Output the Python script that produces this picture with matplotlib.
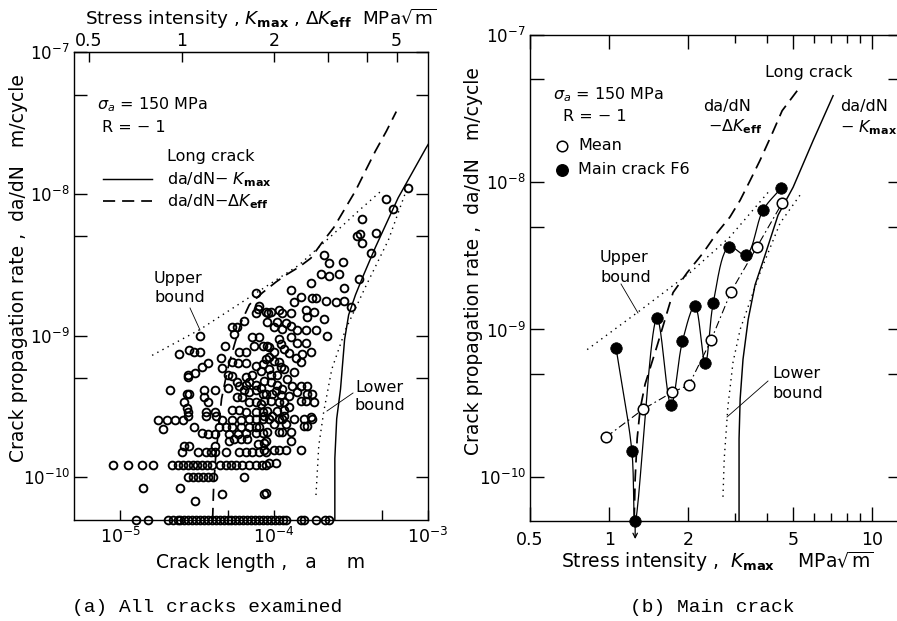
import numpy as np
import matplotlib
matplotlib.use("Agg")
import matplotlib.pyplot as plt
from matplotlib.lines import Line2D
from matplotlib.ticker import FixedLocator, FixedFormatter, NullFormatter
from matplotlib.transforms import offset_copy

plt.rcParams["font.family"] = "DejaVu Sans"
plt.rcParams["mathtext.fontset"] = "dejavusans"

W, H = 897, 621

# crack length (um) at which K = 1 MPa sqrt(m) for sigma_a = 150 MPa
A_UNIT = 25.0

# ---------------- (a) all cracks examined ----------------
# crack length a (um), da/dN (1e-10 m/cycle)
upper_pts = [(743, 110), (536, 92), (595, 78.5), (375, 66), (462, 52.5), (343, 50), (364, 52),
             (375, 45), (423, 38), (210, 37), (226, 32.4), (279, 33), (203, 27), (226, 26.5),
             (263, 27), (358, 25), (173, 23.5), (283, 21.7), (128, 21), (76.5, 20),
             (135, 17.3), (149, 18.7), (176, 18.5), (187, 18.5), (216, 17.6), (251, 17.3),
             (283, 17.6), (314, 15.8), (80, 16.2), (91.5, 14.5), (76.5, 14.5), (113, 14.5),
             (95.7, 14.7), (108, 15.2), (128, 14.5), (163, 13.6), (181, 14.7), (161, 15.2),
             (210, 13.1), (90, 12.5), (105, 12.5), (119, 12.3), (128, 11.6), (100, 11.4),
             (113, 11.2), (141, 11), (161, 11), (187, 11), (220, 10), (79, 15.5), (89, 14.7)]

middle_pts = [(128, 9.7), (141, 8.9), (161, 8.9), (108, 9.4), (90, 8.4), (100, 7.7), (93, 7.1),
              (125, 7.5), (139, 6.9), (152, 7.4), (173, 7.7), (149, 6.5), (108, 6.5), (111, 6.0),
              (116, 5.8), (135, 5.5), (96, 5.3), (105, 5.3), (121, 4.9), (86, 4.8), (96, 4.7),
              (105, 4.5), (131, 4.4), (149, 4.4), (163, 4.4), (141, 4.0), (163, 3.9), (176, 3.9),
              (89, 3.9), (97, 3.9), (125, 3.75), (181, 3.4), (86, 3.45), (96, 3.45), (108, 3.4),
              (116, 3.4), (149, 3.45), (161, 3.45), (125, 3.14), (90, 2.94), (86, 2.72),
              (97, 2.72), (116, 2.72), (173, 2.67), (93, 2.59), (113, 2.59), (135, 2.59),
              (156, 2.59), (176, 2.59), (156, 2.3), (163, 2.3), (90, 2.1), (108, 2.1), (113, 2.1),
              (128, 2.1), (128, 1.8), (89, 1.8), (86, 1.55), (100, 1.55), (108, 1.55), (119, 1.55),
              (149, 1.55), (93, 1.27), (103, 1.27), (89, 0.77),
              (93, 5.8), (100, 6.6), (89, 6.8), (93, 8.3), (111, 8.7), (116, 8.0), (103, 4.06),
              (113, 4.2), (111, 3.8), (116, 3.0), (105, 2.94), (108, 2.59), (100, 2.38), (119, 2.38)]

left_pts = [(64, 12.7), (53, 11.4), (57, 11.4), (55, 10.3), (33, 10), (48, 8.4), (72, 9.7),
            (80, 9.7), (74, 8.4), (84, 8.5), (28, 7.9), (30, 7.6), (33, 7.6), (24, 7.4), (45, 7.0),
            (59, 7.6), (66, 7.6), (53, 6.5), (58, 6.4), (66, 6.4), (37, 6.4), (34, 6.0), (46, 5.9),
            (30.5, 5.4), (27.5, 5.3), (27.5, 5.1), (76.5, 6.1), (84, 6.3), (50, 5.3), (53, 5.2),
            (66, 5.1), (72, 5.3), (82, 5.6), (57, 4.7), (59, 4.4), (66, 4.5), (50, 4.3), (21, 4.1),
            (27, 3.9), (28, 3.9), (35, 4.1), (41, 4.1), (26, 3.4), (27, 3.1), (27.5, 2.9), (35, 3.7),
            (37, 3.4), (36, 2.9), (41, 2.9), (53, 3.0), (57, 3.7), (64, 4.1), (69, 4.0), (76.5, 4.1),
            (84, 3.9), (66, 2.9), (76.5, 2.9), (84, 2.9), (69, 4.7), (76.5, 4.5), (82, 4.3),
            (62, 3.7), (69, 3.4), (76.5, 3.4), (82, 3.3), (59, 3.0),
            (17.6, 2.55), (20, 2.55), (22.6, 2.55), (25.5, 2.55), (27.5, 2.72), (19, 2.2),
            (30, 2.27), (36, 2.72), (42, 2.72), (46, 2.55), (53, 2.55), (61, 2.55), (69, 2.59),
            (76.5, 2.59), (84, 2.59), (44, 2.27), (49, 2.27), (53, 2.27), (61, 2.27), (69, 2.27),
            (76.5, 2.27), (80, 2.27), (34, 2.06), (37, 2.03), (41, 2.03), (51, 2.03), (58, 2.03),
            (66, 2.06), (76.5, 2.06), (84, 2.06), (41, 1.67), (26, 1.65), (28, 1.67), (51, 1.8),
            (55, 1.87), (61, 1.85), (67, 1.85), (78, 1.73), (86, 1.76),
            (14.1, 0.84), (24.4, 0.84), (46, 0.76), (86, 0.76), (30.5, 0.68)]

# cracks sitting on the measurement steps of da/dN
step_rows = {
    1.52: [25, 32, 36, 39, 41, 49, 59, 66, 72, 80, 89],
    1.23: [8.9, 11.3, 13.9, 16.3, 21.7, 23.7, 25.5, 27.5, 29.5, 31.4, 33.8, 36.4, 39.2, 44.2,
           49, 52.8, 56.9, 62.1, 69, 76.5, 83, 88.8],
    1.0: [27.5, 29.6, 31.9, 34.3, 37, 39.8, 64],
    0.5: [12.7, 15.2, 20.4, 22, 23.7, 24.4, 25.9, 27.5, 29.1, 30.9, 32.8, 34.8, 37, 39.2, 41.6,
          44.2, 46.9, 49.8, 52.8, 56, 59.4, 63, 66.9, 71, 75.3, 80, 84.8, 90, 95.6, 101, 108, 114,
          119, 149, 156, 187, 213, 226],
}

# long-crack curves and bounds against crack length (um), da/dN (1e-10 m/cycle)
a_kmax_a = [248, 248, 255, 270, 287, 305, 338, 381, 455, 640, 970, 1161]
a_kmax_r = [0.5, 1.36, 2.59, 4.19, 9.37, 14, 19.4, 26.7, 41.9, 93.7, 210, 290]
a_keff_a = [39.8, 40.4, 41.6, 43.5, 45.5, 49.8, 55.2, 61.2, 69, 83.7, 103, 119, 145, 173, 203,
            244, 291, 338, 392, 455, 536, 622]
a_keff_r = [0.5, 0.84, 1.36, 2.2, 3.57, 5.78, 8.65, 12.5, 16.5, 20, 23.9, 26.7, 30.4, 35.1, 44.7,
            57.8, 79.8, 105, 145, 200, 276, 380]
a_upper_a = [16.1, 32.8, 76.5, 145, 237, 355, 498]
a_upper_r = [7.25, 11, 20, 31.4, 50.8, 76, 105]
a_lower_a = [187, 195, 210, 237, 291, 392, 552, 721]
a_lower_r = [0.75, 1.67, 2.9, 5.8, 11, 22, 47, 105]

# ---------------- (b) main crack ----------------
# K (MPa sqrt(m)), da/dN (1e-10 m/cycle)
mean_K = [0.974, 1.35, 1.74, 2.01, 2.44, 2.91, 3.65, 4.55]
mean_r = [1.86, 2.88, 3.75, 4.19, 8.43, 18.1, 36.4, 72.1]
f6_K = [1.063, 1.22, 1.256, 1.52, 1.72, 1.9, 2.12, 2.32, 2.49, 2.86, 3.32, 3.85, 4.51]
f6_r = [7.44, 1.5, 0.5, 11.9, 3.07, 8.3, 14.5, 5.89, 15.2, 36.4, 32.1, 64.7, 91]

b_kmax_K = [3.12, 3.12, 3.15, 3.23, 3.38, 3.59, 3.92, 4.39, 5.01, 5.97, 7.11]
b_kmax_r = [0.5, 1.81, 3.37, 6.27, 11.7, 20.1, 32.1, 59.8, 92.5, 192, 387]
b_keff_K = [1.245, 1.256, 1.278, 1.312, 1.37, 1.52, 1.75, 1.98, 2.28, 2.57, 2.88, 3.15, 3.44,
            3.75, 4.17, 4.55, 5.19]
b_keff_r = [0.51, 0.97, 1.81, 2.88, 4.25, 7.68, 17.8, 24.3, 33.2, 45.2, 58, 75.5, 103, 141, 214,
            306, 418]
b_upper_K = [0.825, 1.278, 2.03, 2.88, 4.09]
b_upper_r = [7.3, 13, 24.3, 42.5, 88.3]
b_lower_K = [2.71, 2.74, 2.83, 2.96, 3.15, 3.75, 4.47, 5.42]
b_lower_r = [0.73, 1.32, 3.0, 6.0, 10, 24.3, 52.8, 85.6]


def fx(x):
    return x / W


def fy(y):
    return 1 - y / H


def um(v):
    return np.asarray(v, float) * 1e-6


def rate(v):
    return np.asarray(v, float) * 1e-10


def smooth(x, y, n=24, kx=1.78):
    # centripetal Catmull-Rom through the points, done in log space
    P = np.column_stack([np.log10(x) * kx, np.log10(y)])
    P = np.vstack([2 * P[0] - P[1], P, 2 * P[-1] - P[-2]])
    out = []
    for i in range(1, len(P) - 2):
        p0, p1, p2, p3 = P[i - 1:i + 3]
        t0 = 0.0
        t1 = t0 + np.linalg.norm(p1 - p0) ** 0.5 + 1e-9
        t2 = t1 + np.linalg.norm(p2 - p1) ** 0.5 + 1e-9
        t3 = t2 + np.linalg.norm(p3 - p2) ** 0.5 + 1e-9
        t = np.linspace(t1, t2, n)[:, None]
        a1 = (t1 - t) / (t1 - t0) * p0 + (t - t0) / (t1 - t0) * p1
        a2 = (t2 - t) / (t2 - t1) * p1 + (t - t1) / (t2 - t1) * p2
        a3 = (t3 - t) / (t3 - t2) * p2 + (t - t2) / (t3 - t2) * p3
        b1 = (t2 - t) / (t2 - t0) * a1 + (t - t0) / (t2 - t0) * a2
        b2 = (t3 - t) / (t3 - t1) * a2 + (t - t1) / (t3 - t1) * a3
        c = (t2 - t) / (t2 - t1) * b1 + (t - t1) / (t2 - t1) * b2
        out.append(c)
    c = np.vstack(out)
    return 10 ** (c[:, 0] / kx), 10 ** c[:, 1]


fig = plt.figure(figsize=(W / 100, H / 100), dpi=100)

def ftext(x, y, s, size=11.5, ha="left", **kw):
    fig.text(fx(x), fy(y), s, fontsize=size, ha=ha, va="center", **kw)

def fline(xs, ys, **kw):
    fig.add_artist(Line2D([fx(v) for v in xs], [fy(v) for v in ys],
                          transform=fig.transFigure, **kw))

dash = dict(linestyle=(0, (7, 4)), lw=1.25, color="k")
dots = dict(linestyle=(0, (1, 3.2)), lw=1.0, color="k")
solid = dict(linestyle="-", lw=1.05, color="k")

decades = [1e-10, 1e-9, 1e-8, 1e-7]
dec_lab = [r"$10^{-10}$", r"$10^{-9}$", r"$10^{-8}$", r"$10^{-7}$"]
fives = [5e-10, 5e-9, 5e-8]

# ---- panel (a)
axa = fig.add_axes([fx(74), fy(520), (428 - 74) / W, (520 - 52) / H])
axa.set_xscale("log")
axa.set_yscale("log")
axa.set_xlim(5e-6, 1e-3)
axa.set_ylim(5e-11, 1e-7)

pts = upper_pts + middle_pts + left_pts
for r0, alist in step_rows.items():
    pts += [(a0, r0) for a0 in alist]
pts = np.array(pts)
axa.plot(um(pts[:, 0]), rate(pts[:, 1]), "o", ms=5.6, mfc="none", mec="k", mew=1.35,
         clip_on=False, zorder=3)

axa.plot(um(a_kmax_a), rate(a_kmax_r), **solid)
axa.plot(um(a_keff_a), rate(a_keff_r), **dash)
axa.plot(um(a_upper_a), rate(a_upper_r), **dots)
axa.plot(um(a_lower_a), rate(a_lower_r), **dots)

axa.xaxis.set_major_locator(FixedLocator([1e-5, 1e-4, 1e-3]))
axa.xaxis.set_major_formatter(FixedFormatter([r"$10^{-5}$", r"$10^{-4}$", r"$10^{-3}$"]))
axa.xaxis.set_minor_locator(FixedLocator([5e-5, 5e-4]))
axa.xaxis.set_minor_formatter(NullFormatter())
axa.yaxis.set_major_locator(FixedLocator(decades))
axa.yaxis.set_major_formatter(FixedFormatter(dec_lab))
axa.yaxis.set_minor_locator(FixedLocator(fives))
axa.yaxis.set_minor_formatter(NullFormatter())
axa.tick_params(axis="x", which="both", direction="in", length=7, width=1, top=False,
                labelsize=12.5, pad=5)
axa.tick_params(axis="y", which="both", direction="in", length=9, width=1, right=True,
                labelsize=12, pad=3)

top = axa.secondary_xaxis(
    "top",
    functions=(lambda a: np.sqrt(np.clip(a, 1e-12, None) / (A_UNIT * 1e-6)),
               lambda k: A_UNIT * 1e-6 * np.asarray(k) ** 2))
top.xaxis.set_major_locator(FixedLocator([0.5, 1, 2, 5]))
top.xaxis.set_major_formatter(FixedFormatter(["0.5", "1", "2", "5"]))
top.xaxis.set_minor_locator(FixedLocator([3, 4]))
top.xaxis.set_minor_formatter(NullFormatter())
top.tick_params(which="both", direction="in", length=7, width=1, labelsize=12.5, pad=1.5)

for s in axa.spines.values():
    s.set_linewidth(1.0)

ftext(97, 105, r"$\sigma_a$ = 150 MPa")
ftext(102, 127, "R = − 1")
ftext(167, 157, "Long crack")
fline([103, 152], [179, 179], **solid)
ftext(167, 180, r"da/dN− $K_{\bf max}$")
fline([103, 152], [201, 201], **dash)
ftext(167, 202, r"da/dN−$\Delta K_{\bf eff}$")
ftext(154, 279, "Upper")
ftext(154, 298, "bound")
fline([190, 200], [308, 330], lw=0.6, color="k")
ftext(355, 387, "Lower")
ftext(355, 406, "bound")
fline([353, 327], [393, 411], lw=0.6, color="k")

ftext(261, 19, r"Stress intensity , $K_{\bf max}$ , $\Delta K_{\bf eff}$  MPa$\sqrt{\rm m}$",
      size=13.2, ha="center")
ftext(19, 268, "Crack propagation rate ,  da/dN   m/cycle", size=13.5, ha="center",
      rotation=90)
ftext(261, 562, "Crack length ,   a     m", size=13.5, ha="center")
ftext(72, 608, "(a) All cracks examined", size=14, family="Liberation Mono")

# ---- panel (b)
axb = fig.add_axes([fx(530), fy(521), (902 - 530) / W, (521 - 35) / H])
axb.set_xscale("log")
axb.set_yscale("log")
axb.set_xlim(0.5, 13)
axb.set_ylim(5e-11, 1e-7)

axb.plot(b_kmax_K, rate(b_kmax_r), **solid)
axb.plot(b_keff_K, rate(b_keff_r), **dash)
axb.plot(b_upper_K, rate(b_upper_r), **dots)
axb.plot(b_lower_K, rate(b_lower_r), **dots)

sx, sy = smooth(f6_K, f6_r)
axb.plot(sx, rate(sy), "-", lw=0.9, color="k")
axb.plot(mean_K, rate(mean_r), linestyle=(0, (7, 3, 1.5, 3)), lw=0.8, color="k")
axb.plot(f6_K, rate(f6_r), "o", ms=8.3, mfc="k", mec="k", mew=0.5, clip_on=False, zorder=4)
axb.plot(mean_K, rate(mean_r), "o", ms=7.6, mfc="white", mec="k", mew=1.1, clip_on=False,
         zorder=4)

down = offset_copy(axb.transData, fig=fig, y=-13, units="points")
axb.annotate("", xy=(f6_K[2], rate(f6_r[2])), xycoords=down,
             xytext=(f6_K[2], rate(f6_r[2])), textcoords="data",
             arrowprops=dict(arrowstyle="->", lw=0.9, color="k", shrinkA=0, shrinkB=0,
                             mutation_scale=8),
             annotation_clip=False)

axb.xaxis.set_major_locator(FixedLocator([0.5, 1, 2, 5, 10]))
axb.xaxis.set_major_formatter(FixedFormatter(["0.5", "1", "2", "5", "10"]))
axb.xaxis.set_minor_locator(FixedLocator([3, 4, 6, 7, 8, 9]))
axb.xaxis.set_minor_formatter(NullFormatter())
axb.yaxis.set_major_locator(FixedLocator(decades))
axb.yaxis.set_major_formatter(FixedFormatter(dec_lab))
axb.yaxis.set_minor_locator(FixedLocator(fives))
axb.yaxis.set_minor_formatter(NullFormatter())
axb.tick_params(axis="x", which="major", direction="in", length=10, width=1, top=True,
                labelsize=12.5, pad=7)
axb.tick_params(axis="x", which="minor", direction="in", length=6, width=1, top=True)
axb.tick_params(axis="y", which="both", direction="in", length=10, width=1, right=True,
                labelsize=12, pad=3)
for s in axb.spines.values():
    s.set_linewidth(1.0)

ftext(553, 95, r"$\sigma_a$ = 150 MPa")
ftext(563, 117, "R = − 1")
fig.add_artist(Line2D([fx(562)], [fy(146)], marker="o", ms=7.6, mfc="white", mec="k",
                      mew=1.1, transform=fig.transFigure))
ftext(578, 146, "Mean")
fig.add_artist(Line2D([fx(562)], [fy(170)], marker="o", ms=8.3, mfc="k", mec="k",
                      transform=fig.transFigure))
ftext(578, 170, "Main crack F6")
ftext(765, 73, "Long crack")
ftext(703, 106, "da/dN")
ftext(708, 127, r"−$\Delta K_{\bf eff}$")
ftext(840, 107, "da/dN")
ftext(840, 128, r"− $K_{\bf max}$")
ftext(600, 257, "Upper")
ftext(600, 277, "bound")
fline([621, 638], [284, 313], lw=0.6, color="k")
ftext(772, 374, "Lower")
ftext(772, 393, "bound")
fline([768, 727], [381, 417], lw=0.6, color="k")

ftext(473, 261, "Crack propagation rate ,  da/dN   m/cycle", size=13.5, ha="center",
      rotation=90)
ftext(717, 562, r"Stress intensity ,  $K_{\bf max}$    MPa$\sqrt{\rm m}$", size=13.5,
      ha="center")
ftext(630, 608, "(b) Main crack", size=14, family="Liberation Mono")

fig.savefig("out.png", dpi=100)
